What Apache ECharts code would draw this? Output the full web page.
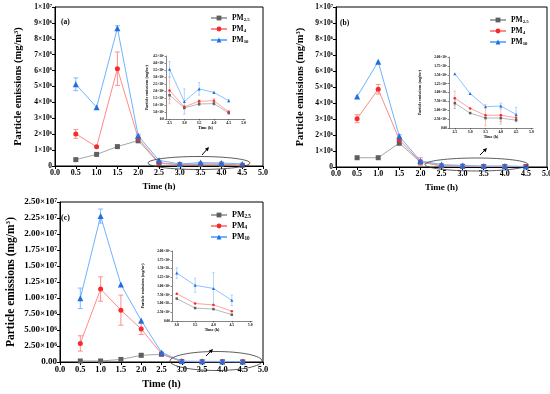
<!DOCTYPE html>
<html>
<head>
<meta charset="utf-8">
<script src="https://cdn.jsdelivr.net/npm/echarts@6/dist/echarts.min.js"></script>
<style>html,body{margin:0;padding:0;background:#fff}#c{width:550px;height:394px}</style>
</head>
<body>
<div id="c"></div>
<script>
// ---------- data ----------
const seriesNames = ['PM2.5', 'PM4', 'PM10'];
const timeH = [0.5, 1.0, 1.5, 2.0, 2.5, 3.0, 3.5, 4.0, 4.5];

// Panel (a)
const a_pm25 = [4.0e5, 7.3e5, 1.22e6, 1.6e6, 1.7e5, 0.8e5, 1.07e5, 1.1e5, 0.42e5];
const a_pm4  = [2.02e6, 1.21e6, 6.12e6, 1.75e6, 2.04e5, 0.87e5, 1.27e5, 1.3e5, 0.52e5];
const a_pm10 = [5.14e6, 3.69e6, 8.67e6, 1.9e6, 3.55e5, 1.25e5, 2.15e5, 1.9e5, 1.3e5];
const a_pm25_err = [0, 0, 0, 1.5e5, 0.3e5, 0.1e5, 0.1e5, 0.1e5, 0];
const a_pm4_err  = [2.8e5, 0, 1.05e6, 1.5e5, 0.95e5, 0.05e5, 0.1e5, 0.15e5, 0.05e5];
const a_pm10_err = [4.0e5, 0, 1.5e5, 1.0e5, 0.55e5, 0.9e5, 0.45e5, 0.05e5, 0.1e5];

// Panel (b)
const b_pm25 = [5.8e5, 5.8e5, 1.5e6, 3.0e5, 0.7e5, 0.42e5, 0.28e5, 0.28e5, 0.22e5];
const b_pm4  = [3.02e6, 4.86e6, 1.71e6, 3.3e5, 0.84e5, 0.55e5, 0.36e5, 0.36e5, 0.29e5];
const b_pm10 = [4.4e6, 6.58e6, 1.92e6, 3.8e5, 1.53e5, 0.97e5, 0.6e5, 0.62e5, 0.38e5];
const b_pm25_err = [0, 0, 1.5e5, 0, 0.15e5, 0, 0, 0.1e5, 0];
const b_pm4_err  = [2.5e5, 3.0e5, 1.5e5, 2.5e5, 0.2e5, 0, 0.3e5, 0.25e5, 0];
const b_pm10_err = [0, 0, 1.0e5, 0, 0, 0, 0, 0.08e5, 0.2e5];

// Panel (c)
const c_pm25 = [1.6e5, 1.6e5, 4.0e5, 1.05e6, 1.2e6, 0.64e5, 0.37e5, 0.34e5, 0.18e5];
const c_pm4  = [2.9e6, 1.14e7, 8.1e6, 5.15e6, 1.3e6, 0.78e5, 0.5e5, 0.46e5, 0.28e5];
const c_pm10 = [9.95e6, 2.28e7, 1.21e7, 6.5e6, 1.5e6, 1.37e5, 1.02e5, 0.93e5, 0.59e5];
const c_pm25_err = [0, 0, 0, 2.5e5, 2.0e5, 0, 0, 0, 0];
const c_pm4_err  = [1.2e6, 1.9e6, 2.35e6, 0.85e6, 0.2e6, 0, 0, 0, 0];
const c_pm10_err = [1.6e6, 1.1e6, 0, 0, 0, 0.15e5, 0.2e5, 0.45e5, 0.15e5];

// tick labels
const xTicksMain = ['0.0','0.5','1.0','1.5','2.0','2.5','3.0','3.5','4.0','4.5','5.0'];
const xTicksInset = ['2.5','3.0','3.5','4.0','4.5','5.0'];
const xTicksInsetC = ['3.0','3.5','4.0','4.5','5.0'];
const yTicksAB = ['0','1×10^6','2×10^6','3×10^6','4×10^6','5×10^6','6×10^6','7×10^6','8×10^6','9×10^6','1×10^7'];
const yTicksC = ['0.00','2.50×10^6','5.00×10^6','7.50×10^6','1.00×10^7','1.25×10^7','1.50×10^7','1.75×10^7','2.00×10^7','2.25×10^7','2.50×10^7'];
const yTicksInsetA = ['0.0','5.0×10^4','1.0×10^5','1.5×10^5','2.0×10^5','2.5×10^5','3.0×10^5','3.5×10^5','4.0×10^5','4.5×10^5'];
const yTicksInsetBC = ['0.00','2.50×10^4','5.00×10^4','7.50×10^4','1.00×10^5','1.25×10^5','1.50×10^5','1.75×10^5','2.00×10^5'];

// ---------- styles ----------
const FONT = '"Liberation Serif", "DejaVu Serif", serif';
const lineColors = ['#a6a6a6', '#ff8a8a', '#6db3ff'];
const symColors  = ['#5f5f5f', '#f52a2a', '#1f6fe0'];
const errColors  = ['#9a9a9a', '#ff8f8f', '#7fbaff'];
const symbols = ['rect', 'circle', 'triangle'];

function supify(s) { return s.replace(/\^(\d+)/, '{sup|$1}'); }

function richFor(fs) {
  return { sup: { fontSize: Math.max(fs * 0.62, 2.5), fontFamily: FONT, fontWeight: 'bold', color: '#000', verticalAlign: 'top', lineHeight: fs * 0.9 } };
}

function tickFormatter(arr, min, interval) {
  return function (v) {
    const i = Math.round((v - min) / interval);
    return arr[i] !== undefined ? supify(arr[i]) : '';
  };
}

// grids
const grids = [
  { left: 55, right: 287, top: 7, bottom: 228, show: true, borderColor: '#000', borderWidth: 1 },
  { left: 336, right: 3, top: 7, bottom: 227, show: true, borderColor: '#000', borderWidth: 1 },
  { left: 60, right: 287, top: 202, bottom: 32, show: true, borderColor: '#000', borderWidth: 1 },
  { left: 166, right: 305, top: 56, bottom: 275 },
  { left: 449, right: 17, top: 57, bottom: 266 },
  { left: 172, right: 298, top: 251, bottom: 73 }
];
grids.forEach(g => { g.outerBoundsMode = 'none'; g.containLabel = false; });

function mainX(gi, fs, nameFs, gap) {
  return {
    type: 'value', gridIndex: gi, min: 0, max: 5, interval: 0.5,
    name: 'Time (h)', nameLocation: 'middle', nameGap: gap,
    nameTextStyle: { fontFamily: FONT, fontWeight: 'bold', fontSize: nameFs, color: '#000' },
    axisLine: { show: true, lineStyle: { color: '#000', width: 1 } },
    axisTick: { show: true, length: 3, lineStyle: { color: '#000' } },
    axisLabel: { fontFamily: FONT, fontWeight: 'bold', fontSize: fs, color: '#000', margin: 3,
      formatter: tickFormatter(xTicksMain, 0, 0.5) },
    splitLine: { show: false }
  };
}
function mainY(gi, max, interval, ticks, fs, nameFs, gap) {
  return {
    type: 'value', gridIndex: gi, min: 0, max: max, interval: interval,
    name: 'Particle emissions (mg/m{sup|3})', nameLocation: 'middle', nameGap: gap, nameRotate: 90,
    nameTextStyle: { fontFamily: FONT, fontWeight: 'bold', fontSize: nameFs, color: '#000', rich: richFor(nameFs) },
    axisLine: { show: true, lineStyle: { color: '#000', width: 1 } },
    axisTick: { show: true, length: 3, lineStyle: { color: '#000' } },
    axisLabel: { fontFamily: FONT, fontWeight: 'bold', fontSize: fs, color: '#000', margin: 3,
      formatter: tickFormatter(ticks, 0, interval), rich: richFor(fs) },
    splitLine: { show: false }
  };
}
function insetX(gi, min, ticks) {
  const vals = ticks.map(Number);
  return {
    type: 'value', gridIndex: gi, min: min, max: 5.05,
    name: 'Time (h)', nameLocation: 'middle', nameGap: 7,
    nameTextStyle: { fontFamily: FONT, fontWeight: 'bold', fontSize: 4, color: '#000' },
    axisLine: { show: true, lineStyle: { color: '#333', width: 0.6 } },
    axisTick: { show: true, length: 1.5, lineStyle: { color: '#333', width: 0.6 }, customValues: vals },
    axisLabel: { fontFamily: FONT, fontWeight: 'bold', fontSize: 3.8, color: '#000', margin: 2,
      customValues: vals, formatter: v => v.toFixed(1) },
    splitLine: { show: false }
  };
}
function insetY(gi, max, interval, ticks, gap) {
  return {
    type: 'value', gridIndex: gi, min: 0, max: max, interval: interval,
    name: 'Particle emissions (mg/m{sup|3})', nameLocation: 'middle', nameGap: gap, nameRotate: 90,
    nameTextStyle: { fontFamily: FONT, fontWeight: 'bold', fontSize: 4, color: '#000', rich: richFor(4) },
    axisLine: { show: true, lineStyle: { color: '#333', width: 0.6 } },
    axisTick: { show: true, length: 1.5, lineStyle: { color: '#333', width: 0.6 } },
    axisLabel: { fontFamily: FONT, fontWeight: 'bold', fontSize: 3.5, color: '#000', margin: 2,
      formatter: tickFormatter(ticks, 0, interval), rich: richFor(3.5) },
    splitLine: { show: false }
  };
}

const xAxes = [
  mainX(0, 8, 9, 16),
  mainX(1, 8, 9, 16),
  mainX(2, 8.5, 10.5, 17),
  insetX(3, 2.38, xTicksInset),
  insetX(4, 2.31, xTicksInset),
  insetX(5, 2.87, xTicksInsetC)
];
const yAxes = [
  mainY(0, 1e7, 1e6, yTicksAB, 7.5, 10.5, 31),
  mainY(1, 1e7, 1e6, yTicksAB, 7.5, 10.5, 30),
  mainY(2, 2.5e7, 2.5e6, yTicksC, 9, 11.5, 43),
  insetY(3, 4.5e5, 5e4, yTicksInsetA, 12),
  insetY(4, 2e5, 2.5e4, yTicksInsetBC, 27),
  insetY(5, 2e5, 2.5e4, yTicksInsetBC, 27)
];

const panels = [
  { vals: [a_pm25, a_pm4, a_pm10], errs: [a_pm25_err, a_pm4_err, a_pm10_err], insetFrom: 2.5 },
  { vals: [b_pm25, b_pm4, b_pm10], errs: [b_pm25_err, b_pm4_err, b_pm10_err], insetFrom: 2.5 },
  { vals: [c_pm25, c_pm4, c_pm10], errs: [c_pm25_err, c_pm4_err, c_pm10_err], insetFrom: 3.0 }
];

function errSeries(axisIdx, k, data, cap, z) {
  return {
    type: 'custom', name: seriesNames[k], xAxisIndex: axisIdx, yAxisIndex: axisIdx, z: z, clip: true,
    silent: true, data: data,
    renderItem: function (params, api) {
      const x = api.value(0), y = api.value(1), e = api.value(2);
      const p1 = api.coord([x, y + e]);
      const p2 = api.coord([x, y - e]);
      const st = { stroke: errColors[k], lineWidth: cap > 2 ? 1 : 0.6 };
      return { type: 'group', children: [
        { type: 'line', shape: { x1: p1[0], y1: p1[1], x2: p2[0], y2: p2[1] }, style: st },
        { type: 'line', shape: { x1: p1[0] - cap, y1: p1[1], x2: p1[0] + cap, y2: p1[1] }, style: st },
        { type: 'line', shape: { x1: p2[0] - cap, y1: p2[1], x2: p2[0] + cap, y2: p2[1] }, style: st }
      ]};
    }
  };
}

const series = [];
panels.forEach((p, pi) => {
  for (let k = 0; k < 3; k++) {
    // main
    const mainData = timeH.map((t, i) => [t, p.vals[k][i]]);
    series.push({
      type: 'line', name: seriesNames[k], xAxisIndex: pi, yAxisIndex: pi, data: mainData,
      symbol: symbols[k], symbolSize: k === 2 ? 6 : 5, z: 3 + k,
      lineStyle: { color: lineColors[k], width: 1 }, itemStyle: { color: symColors[k] }
    });
    const eMain = timeH.map((t, i) => [t, p.vals[k][i], p.errs[k][i]]).filter(d => d[2] > 0 && d[0] < p.insetFrom);
    series.push(errSeries(pi, k, eMain, 2.5, 2));
    // inset
    const ins = timeH.map((t, i) => [t, p.vals[k][i]]).filter(d => d[0] >= p.insetFrom);
    series.push({
      type: 'line', name: seriesNames[k], xAxisIndex: pi + 3, yAxisIndex: pi + 3, data: ins,
      symbol: symbols[k], symbolSize: k === 2 ? 3 : 2.5, z: 3 + k,
      lineStyle: { color: lineColors[k], width: 0.8 }, itemStyle: { color: symColors[k] }
    });
    const eIns = timeH.map((t, i) => [t, p.vals[k][i], p.errs[k][i]]).filter(d => d[2] > 0 && d[0] >= p.insetFrom);
    series.push(errSeries(pi + 3, k, eIns, 1.2, 2));
  }
});

function legendAt(left, top, fs) {
  return {
    left: left, top: top, orient: 'vertical', itemWidth: 16, itemHeight: 6, itemGap: 3,
    data: seriesNames, selectedMode: false,
    formatter: n => 'PM{sub|' + n.slice(2) + '}',
    textStyle: { fontFamily: FONT, fontWeight: 'bold', fontSize: fs, color: '#000',
      rich: { sub: { fontFamily: FONT, fontWeight: 'bold', fontSize: fs * 0.65, color: '#000', verticalAlign: 'bottom', lineHeight: fs * 0.9 } } }
  };
}

function ellipse(cx, cy, rx, ry) {
  return { type: 'ellipse', shape: { cx: cx, cy: cy, rx: rx, ry: ry }, style: { fill: null, stroke: '#333', lineWidth: 0.8 }, silent: true, z: 10 };
}
function arrow(x1, y1, x2, y2) {
  const ang = Math.atan2(y2 - y1, x2 - x1), L = 4, W = 2;
  const bx = x2 - L * Math.cos(ang), by = y2 - L * Math.sin(ang);
  const nx = -Math.sin(ang) * W, ny = Math.cos(ang) * W;
  return [
    { type: 'line', shape: { x1: x1, y1: y1, x2: bx, y2: by }, style: { stroke: '#000', lineWidth: 1 }, z: 10 },
    { type: 'polygon', shape: { points: [[x2, y2], [bx + nx, by + ny], [bx - nx, by - ny]] }, style: { fill: '#000' }, z: 10 }
  ];
}
function panelLabel(txt, x, y, fs) {
  return { type: 'text', left: x, top: y, style: { text: txt, font: 'bold ' + fs + 'px ' + FONT, fill: '#000' }, z: 10 };
}

const option = {
  backgroundColor: '#fff',
  animation: false,
  grid: grids,
  xAxis: xAxes,
  yAxis: yAxes,
  legend: [legendAt(205, 9, 7.5), legendAt(484, 11, 7.5), legendAt(205, 206, 8)],
  series: series,
  graphic: [
    ellipse(199, 163, 51, 6.5),
    ellipse(476.5, 164.5, 51.5, 6.5),
    ellipse(216, 361, 46, 9.5),
    ...arrow(202, 155, 209, 147),
    ...arrow(480, 155, 487, 148),
    ...arrow(206, 356, 213, 349),
    panelLabel('(a)', 61, 18, 7.5),
    panelLabel('(b)', 340, 19, 7.5),
    panelLabel('(c)', 61, 214, 8)
  ]
};

const chart = echarts.init(document.getElementById('c'), null, { renderer: 'canvas' });
chart.setOption(option);
</script>
</body>
</html>
